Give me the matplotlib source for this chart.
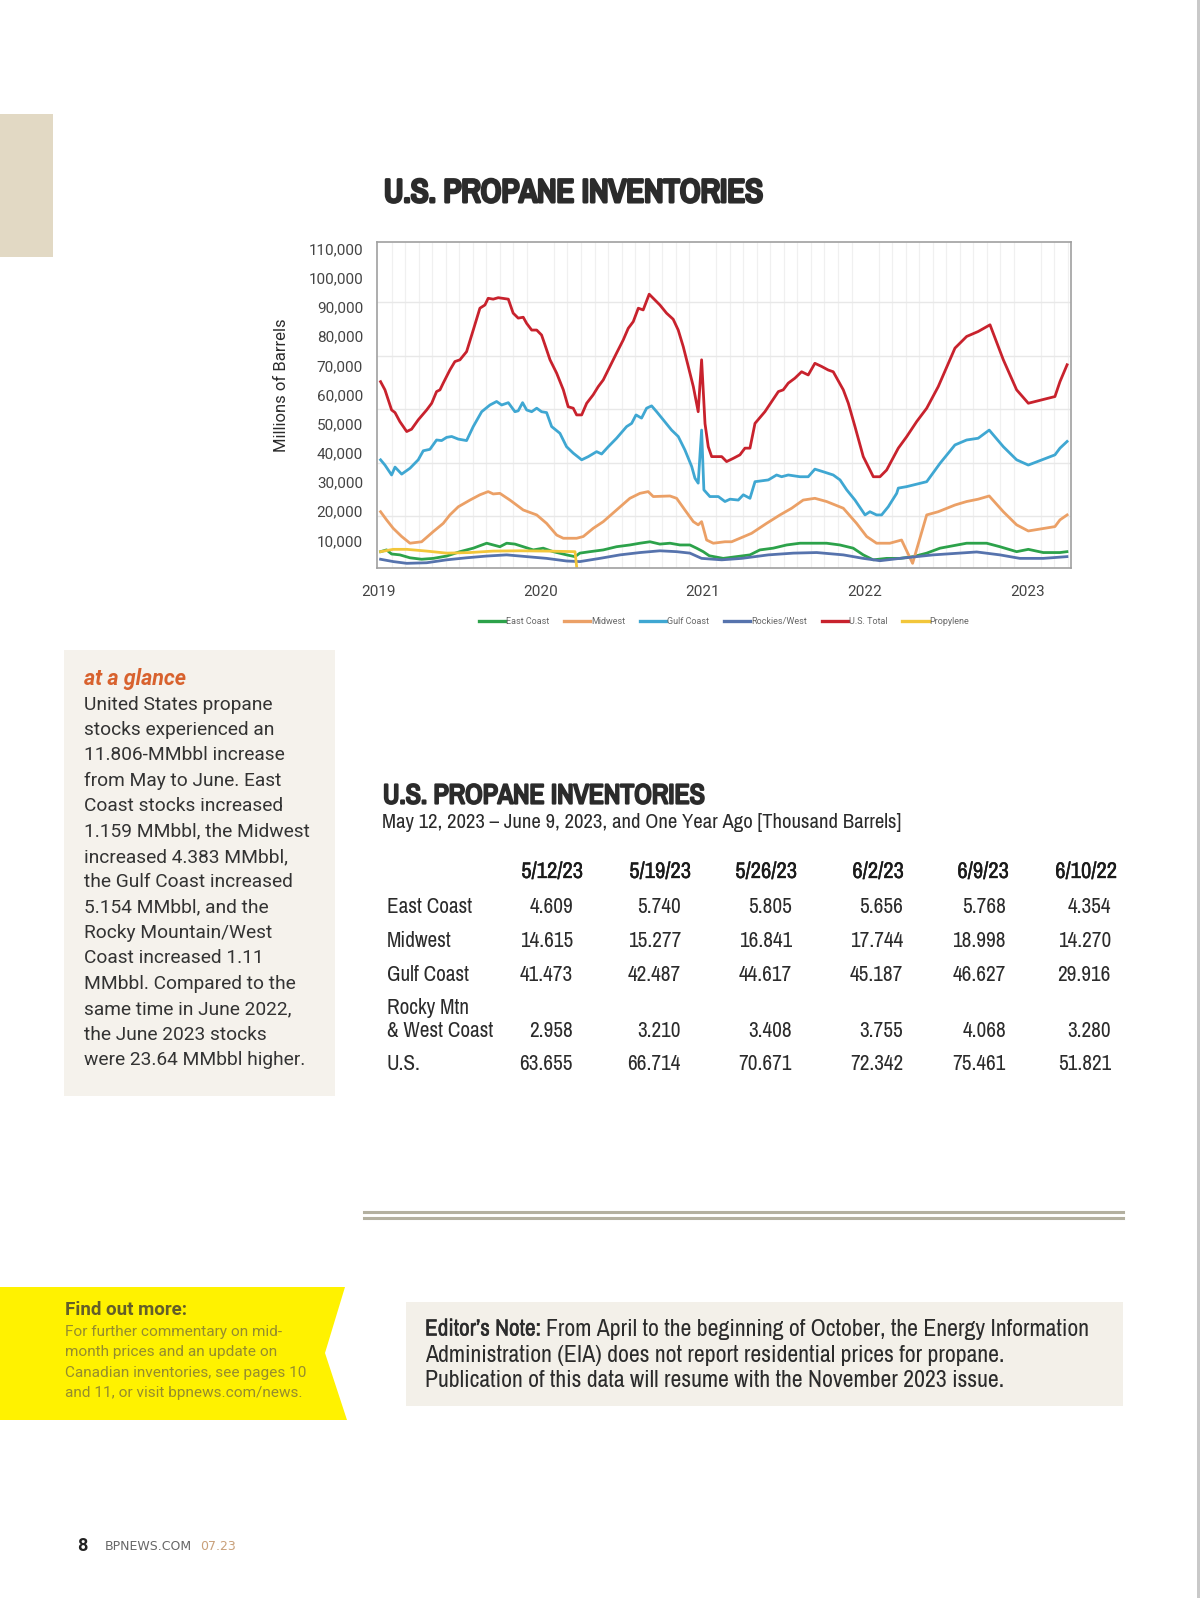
import numpy as np
import matplotlib
matplotlib.use('Agg')
import matplotlib.pyplot as plt
import matplotlib.patheffects as pe
from matplotlib import font_manager as fm
from matplotlib.patches import Rectangle, Polygon
from matplotlib.lines import Line2D
from matplotlib.ticker import FixedLocator, MultipleLocator

W, H = 1200, 1598

# ---- chart data, thousand barrels ----
east_t = [2019.015, 2019.052, 2019.083, 2019.134, 2019.196, 2019.268, 2019.340, 2019.422, 2019.504,
          2019.586, 2019.669, 2019.709, 2019.750, 2019.792, 2019.843, 2019.894, 2019.956,
          2020.017, 2020.079, 2020.161, 2020.213, 2020.243, 2020.305, 2020.387, 2020.469, 2020.551,
          2020.613, 2020.675, 2020.736, 2020.798, 2020.860, 2020.921, 2020.962,
          2021.003, 2021.040, 2021.126, 2021.209, 2021.291, 2021.352, 2021.434, 2021.517, 2021.599,
          2021.681, 2021.763, 2021.845, 2021.927, 2021.989,
          2022.050, 2022.133, 2022.215, 2022.297, 2022.380, 2022.462, 2022.626, 2022.749, 2022.831,
          2022.934, 2023.006, 2023.098, 2023.201, 2023.244]
east_v = [6100, 6700, 5300, 5000, 4000, 3500, 3800, 4600, 6100, 7300, 9000, 8400, 7800, 9000, 8700, 7800, 6700,
          7300, 6100, 5000, 4400, 5600, 6100, 6700, 7800, 8400, 9000, 9500, 8700, 9000, 8400, 8400, 7300,
          6100, 4700, 3800, 4400, 5000, 6700, 7300, 8400, 9000, 9000, 9000, 8400, 7300, 5000,
          3300, 3800, 3800, 4400, 5600, 7300, 9000, 9000, 7800, 6100, 6900, 5800, 5800, 6100]

mid_t = [2019.015, 2019.052, 2019.093, 2019.145, 2019.196, 2019.268, 2019.340, 2019.401, 2019.442, 2019.494,
         2019.566, 2019.627, 2019.678, 2019.709, 2019.750, 2019.812, 2019.894, 2019.977,
         2020.038, 2020.100, 2020.141, 2020.223, 2020.264, 2020.325, 2020.387, 2020.469, 2020.551, 2020.613,
         2020.664, 2020.695, 2020.798, 2020.839, 2020.890, 2020.942, 2020.972, 2020.993,
         2021.024, 2021.065, 2021.137, 2021.178, 2021.229, 2021.301, 2021.393, 2021.476, 2021.548, 2021.619,
         2021.691, 2021.763, 2021.866, 2021.948,
         2022.010, 2022.071, 2022.153, 2022.225, 2022.293, 2022.380, 2022.451, 2022.554, 2022.626, 2022.697,
         2022.765, 2022.852, 2022.934, 2023.006, 2023.170, 2023.201, 2023.245]
mid_v = [19800, 17000, 14100, 11300, 9000, 9500, 13000, 15800, 18700, 21500,
         23800, 25600, 26700, 25900, 26100, 23800, 20400, 18700,
         15800, 11800, 10700, 10700, 11300, 14100, 16400, 20400, 24400, 26100,
         26700, 25000, 25200, 24400, 20400, 16400, 15300, 16400,
         10100, 9000, 9500, 9500, 10700, 12400, 15800, 18700, 21000, 23800,
         24400, 23300, 21000, 15800,
         11300, 9000, 9000, 10100, 2100, 18700, 19800, 22100, 23300, 24100,
         25200, 19800, 15300, 13200, 14700, 17000, 18700]

gulf_t = [2019.015, 2019.042, 2019.083, 2019.104, 2019.145, 2019.196, 2019.247, 2019.278, 2019.319, 2019.360,
          2019.391, 2019.422, 2019.453, 2019.494, 2019.545, 2019.586, 2019.638, 2019.689, 2019.730, 2019.761,
          2019.802, 2019.843, 2019.863, 2019.890, 2019.915, 2019.946, 2019.977,
          2020.007, 2020.038, 2020.069, 2020.120, 2020.161, 2020.202, 2020.254, 2020.295, 2020.346, 2020.377,
          2020.418, 2020.469, 2020.531, 2020.562, 2020.589, 2020.623, 2020.654, 2020.685, 2020.716, 2020.757,
          2020.808, 2020.849, 2020.890, 2020.932, 2020.952, 2020.972, 2020.993,
          2021.007, 2021.044, 2021.096, 2021.137, 2021.168, 2021.219, 2021.250, 2021.291, 2021.322, 2021.404,
          2021.455, 2021.486, 2021.527, 2021.599, 2021.650, 2021.691, 2021.743, 2021.804, 2021.846, 2021.887,
          2021.938,
          2022.000, 2022.030, 2022.071, 2022.102, 2022.143, 2022.195, 2022.205, 2022.256, 2022.380, 2022.462,
          2022.554, 2022.626, 2022.697, 2022.765, 2022.852, 2022.934,
          2023.006, 2023.170, 2023.201, 2023.245]
gulf_v = [37600, 35800, 32400, 35100, 32700, 34700, 37600, 40700, 41200, 44400,
          44200, 45300, 45600, 44700, 44200, 49000, 54100, 56400, 57600, 56400,
          57200, 54100, 54400, 57200, 54700, 54100, 55300,
          54100, 53800, 49000, 46700, 42100, 39900, 37600, 38700, 40400, 39600,
          42100, 45000, 49000, 50100, 53000, 51900, 55300, 56100, 54100, 51300,
          47800, 45600, 41000, 35300, 31300, 29600, 47800,
          27300, 25000, 25000, 23300, 24100, 23800, 25600, 24400, 30100, 30700,
          32400, 31800, 32400, 31800, 31800, 34400, 33500, 32400, 30700, 27300,
          23800,
          18700, 19800, 18700, 18700, 21500, 26100, 27900, 28400, 30100, 36400,
          42700, 44400, 45000, 47800, 42100, 37600,
          35800, 39300, 41600, 43900]

rock_t = [2019.015, 2019.093, 2019.176, 2019.299, 2019.422, 2019.545, 2019.669, 2019.792, 2019.915,
          2020.038, 2020.161, 2020.243, 2020.366, 2020.490, 2020.613, 2020.736, 2020.839, 2020.921, 2020.993,
          2021.117, 2021.240, 2021.404, 2021.558, 2021.702, 2021.866, 2021.989,
          2022.092, 2022.215, 2022.420, 2022.688, 2022.831, 2022.954, 2023.098, 2023.244]
rock_v = [3500, 2700, 2100, 2300, 3300, 4000, 4600, 5000, 4400,
          3800, 2900, 2700, 3800, 5000, 5800, 6400, 6100, 5600, 3800,
          3300, 3800, 5000, 5600, 5800, 5000, 3800,
          3000, 3800, 5000, 6000, 5000, 3800, 3800, 4400]

us_t = [2019.015, 2019.042, 2019.083, 2019.104, 2019.134, 2019.176, 2019.206, 2019.247, 2019.299, 2019.330,
        2019.360, 2019.381, 2019.401, 2019.442, 2019.473, 2019.504, 2019.545, 2019.586, 2019.627, 2019.658,
        2019.678, 2019.709, 2019.740, 2019.802, 2019.832, 2019.863, 2019.894, 2019.915, 2019.946, 2019.977,
        2020.007, 2020.028, 2020.059, 2020.100, 2020.141, 2020.171, 2020.202, 2020.223, 2020.254, 2020.285,
        2020.325, 2020.356, 2020.387, 2020.428, 2020.469, 2020.510, 2020.541, 2020.572, 2020.603, 2020.633,
        2020.670, 2020.695, 2020.736, 2020.777, 2020.818, 2020.849, 2020.880, 2020.911, 2020.942, 2020.972,
        2020.993, 2021.014, 2021.034, 2021.055, 2021.117, 2021.147, 2021.188, 2021.229, 2021.260, 2021.291,
        2021.322, 2021.383, 2021.425, 2021.466, 2021.496, 2021.527, 2021.568, 2021.609, 2021.650, 2021.691,
        2021.733, 2021.773, 2021.804, 2021.866, 2021.897, 2021.938, 2021.989, 2022.051, 2022.092, 2022.133,
        2022.205, 2022.256, 2022.318, 2022.380, 2022.451, 2022.554, 2022.626, 2022.697, 2022.770, 2022.852,
        2022.934, 2023.006, 2023.170, 2023.201, 2023.245]
us_v = [64400, 61600, 54700, 53800, 50700, 47300, 48100, 51300, 54700, 57000,
        61000, 61600, 63900, 68400, 71300, 71900, 74700, 82100, 89600, 90700,
        93000, 92700, 93200, 92700, 87900, 86200, 86500, 84400, 82100, 82100,
        80400, 77000, 71900, 67300, 61600, 55800, 55300, 53000, 53000, 57000,
        59900, 62700, 65000, 69600, 74200, 78700, 82700, 85000, 89600, 89000,
        94400, 93000, 90700, 87900, 85800, 82100, 76400, 69600, 62700, 54100,
        71900, 50000, 42100, 38700, 38700, 37000, 38100, 39300, 41600, 41600,
        50100, 54100, 57600, 61000, 61600, 63900, 65600, 67800, 66700, 70700,
        69600, 68400, 67800, 61600, 57000, 49000, 38700, 31800, 31800, 34100,
        41600, 45500, 50700, 55300, 62700, 75900, 79900, 81600, 83900, 71900,
        61600, 57000, 59300, 64400, 70200]

prop_t = [2019.015, 2019.093, 2019.176, 2019.299, 2019.422, 2019.566, 2019.709, 2019.874,
          2020.038, 2020.213, 2020.223]
prop_v = [6100, 6900, 6900, 6300, 5600, 5800, 6300, 6400, 6300, 6100, 1000]

year_ticks = [2019, 2020, 2021, 2022, 2023]
y_ticks = [10000, 20000, 30000, 40000, 50000, 60000, 70000, 80000, 90000, 100000, 110000]

# ---- table data ----
table_cols = ['5/12/23', '5/19/23', '5/26/23', '6/2/23', '6/9/23', '6/10/22']
table_rows = ['East Coast', 'Midwest', 'Gulf Coast', 'Rocky Mtn\n& West Coast', 'U.S.']
table_vals = [['4.609', '5.740', '5.805', '5.656', '5.768', '4.354'],
              ['14.615', '15.277', '16.841', '17.744', '18.998', '14.270'],
              ['41.473', '42.487', '44.617', '45.187', '46.627', '29.916'],
              ['2.958', '3.210', '3.408', '3.755', '4.068', '3.280'],
              ['63.655', '66.714', '70.671', '72.342', '75.461', '51.821']]

glance_lines = ['United States propane', 'stocks experienced an', '11.806-MMbbl increase',
                'from May to June. East', 'Coast stocks increased', '1.159 MMbbl, the Midwest',
                'increased 4.383 MMbbl,', 'the Gulf Coast increased', '5.154 MMbbl, and the',
                'Rocky Mountain/West', 'Coast increased 1.11', 'MMbbl. Compared to the',
                'same time in June 2022,', 'the June 2023 stocks', 'were 23.64 MMbbl higher.']
more_lines = ['For further commentary on mid-', 'month prices and an update on',
              'Canadian inventories, see pages 10', 'and 11, or visit bpnews.com/news.']
note_lines = ['From April to the beginning of October, the Energy Information',
              'Administration (EIA) does not report residential prices for propane.',
              'Publication of this data will resume with the November 2023 issue.']


# ---- fonts: look for an installed condensed face, with a bold cut if there is one ----
def wnum(w):
    if isinstance(w, str):
        return fm.weight_dict.get(w, 400)
    return int(w)


fams = {}
for f in fm.fontManager.ttflist:
    fams.setdefault(f.name, set()).add(wnum(f.weight))
narrow_names = sorted([n for n in fams if 'Condensed' in n or 'Narrow' in n], key=len)
plain = [n for n in narrow_names if 'Bold' not in n and 'Black' not in n and 'Light' not in n
         and 'Thin' not in n]
NARROW = (plain or narrow_names or ['Roboto'])[0]
bold_named = [n for n in narrow_names if 'Bold' in n or 'Black' in n]
if NARROW in fams and max(fams[NARROW]) >= 600:
    NARROW_B, FAUX = NARROW, False
elif bold_named:
    NARROW_B, FAUX = bold_named[0], False
else:
    NARROW_B, FAUX = NARROW, True
BODY = ['Roboto', 'DejaVu Sans']


def fx(x):
    return x / W


def fy(y):
    return 1 - y / H


fig = plt.figure(figsize=(W / 100, H / 100), dpi=100)
fig.patch.set_facecolor('white')
renderer = fig.canvas.get_renderer()
ink = '#2b2b2b'


def put(x, y, s, **kw):
    kw.setdefault('va', 'center')
    kw.setdefault('color', ink)
    return fig.text(fx(x), fy(y), s, **kw)


def heavy(stroke, color=ink):
    # bold condensed text; thickened with a stroke when no bold cut is installed
    kw = dict(family=[NARROW_B, 'DejaVu Sans'], weight='bold')
    if FAUX:
        kw['path_effects'] = [pe.withStroke(linewidth=stroke, foreground=color)]
    return kw


def fit(txt, width):
    # scale a text so that its drawn width matches the printed one
    bb = txt.get_window_extent(renderer=renderer)
    txt.set_fontsize(txt.get_fontsize() * width / bb.width)
    return txt


def size_for(s, width, **kw):
    probe = put(0, 0, s, fontsize=20, **kw)
    bb = probe.get_window_extent(renderer=renderer)
    probe.remove()
    return 20 * width / bb.width


def box(x0, y0, x1, y1, color):
    fig.add_artist(Rectangle((fx(x0), fy(y1)), fx(x1) - fx(x0), fy(y0) - fy(y1),
                             transform=fig.transFigure, facecolor=color, edgecolor='none', zorder=0))


nar = dict(family=[NARROW, 'DejaVu Sans'])

# page furniture
box(0, 114, 53, 257, '#e2d9c4')
box(1197, 0, 1200, H, '#c9c9c9')
box(64, 650, 335, 1096, '#f5f2ec')
box(406, 1302, 1123, 1406, '#f3f0e9')
fig.add_artist(Polygon([(fx(0), fy(1287)), (fx(345), fy(1287)), (fx(325), fy(1353)),
                        (fx(347), fy(1420)), (fx(0), fy(1420))], closed=True,
                       transform=fig.transFigure, facecolor='#fff200', edgecolor='none', zorder=0))
for yy in (1212, 1218):
    fig.add_artist(Line2D([fx(364), fx(1123)], [fy(yy), fy(yy)], transform=fig.transFigure,
                          color='#b3b0a0', lw=2.2))

# ---- chart ----
fit(put(384, 193, 'U.S. PROPANE INVENTORIES', fontsize=20, **heavy(2.2)), 380)

ax = fig.add_axes([fx(377), fy(568), (1071 - 377) / W, (568 - 242) / H])
series = [('East Coast', east_t, east_v, '#2ca24a'),
          ('Midwest', mid_t, mid_v, '#eba066'),
          ('Gulf Coast', gulf_t, gulf_v, '#3fa7d2'),
          ('Rockies/West', rock_t, rock_v, '#5673ad'),
          ('U.S. Total', us_t, us_v, '#c8222d'),
          ('Propylene', prop_t, prop_v, '#f2c63a')]
handles = []
for name, t, v, c in series:
    ax.plot(t, v, color=c, lw=2.0, solid_joinstyle='round', label=name)
    handles.append(Line2D([], [], color=c, lw=2.4))

ax.set_xlim(2018.993, 2023.269)
ax.set_ylim(500, 112300)
ax.set_xticks(year_ticks)
ax.set_xticklabels([str(y) for y in year_ticks])
ax.set_yticks(y_ticks)
ax.set_yticklabels(['{:,}'.format(v) for v in y_ticks])
ax.xaxis.set_minor_locator(MultipleLocator(1 / 12))
ax.yaxis.set_minor_locator(FixedLocator(np.arange(1, 7) * 110000 / 6))
ax.grid(which='minor', axis='x', color='#f0f0f0', lw=0.9)
ax.grid(which='minor', axis='y', color='#e8e8e8', lw=1.0)
ax.set_axisbelow(True)
ax.tick_params(which='both', length=0)
ax.tick_params(axis='y', pad=10, labelsize=11, labelcolor='#444')
ax.tick_params(axis='x', pad=12, labelsize=11, labelcolor='#444')
for lab in ax.get_xticklabels() + ax.get_yticklabels():
    lab.set_family(BODY)
for sp in ax.spines.values():
    sp.set_color('#a0a0a0')
    sp.set_linewidth(1.2)

put(281, 385, 'Millions of Barrels', rotation=90, ha='center', family=BODY, fontsize=12)

fig.legend(handles, [s[0] for s in series], loc='center', bbox_to_anchor=(fx(724), fy(622)),
           ncol=6, frameon=False, handlelength=2.9, handletextpad=0.1,
           columnspacing=1.65, labelcolor='#666', prop={'family': BODY, 'size': 6.5})

# ---- at a glance ----
put(84, 679, 'at a glance', family=BODY, weight='bold', style='italic', fontsize=15.5, color='#d8622e')
for i, line in enumerate(glance_lines):
    put(84, 704.5 + i * 25.4, line, family=BODY, fontsize=13.8, color='#333333')

# ---- table ----
fit(put(383, 796, 'U.S. PROPANE INVENTORIES', fontsize=18, **heavy(1.6)), 322)
fit(put(382, 822, 'May 12, 2023 \u2013 June 9, 2023, and One Year Ago [Thousand Barrels]',
        fontsize=12, **nar), 518)
col_center = [552, 660, 766, 878, 983, 1086]
col_right = [573, 681, 792, 903, 1006, 1111]
row_y = [907, 941, 975, 1031, 1064]
head_size = size_for('5/12/23', 62, **nar)
cell_size = size_for('14.615', 53, **nar)
for c, name in enumerate(table_cols):
    put(col_center[c], 872, name, ha='center', fontsize=head_size, color='#1a1a1a',
        path_effects=[pe.withStroke(linewidth=0.25, foreground='#1a1a1a')], **nar)
for r, name in enumerate(table_rows):
    parts = name.split('\n')
    for k, p in enumerate(parts):
        put(387, row_y[r] - (len(parts) - 1 - k) * 23, p, fontsize=cell_size, **nar)
    for c, val in enumerate(table_vals[r]):
        put(col_right[c], row_y[r], val, ha='right', fontsize=cell_size, **nar)

# ---- find out more ----
put(65, 1310, 'Find out more:', family=BODY, weight='bold', fontsize=13.5, color='#635e29')
for i, line in enumerate(more_lines):
    put(65, 1332 + i * 20.4, line, family=BODY, fontsize=11.1, color='#958c2e')

# ---- editor's note ----
note_size = size_for(note_lines[1], 579, **nar)
lead = put(425, 1329, 'Editor\u2019s Note:', fontsize=note_size, **heavy(0.35))
fit(lead, 116)
bb = lead.get_window_extent(renderer=renderer)
put(bb.x1 + 5, 1329, note_lines[0], fontsize=note_size, **nar)
for i, line in enumerate(note_lines[1:]):
    put(425, 1355 + i * 25.5, line, fontsize=note_size, **nar)

# ---- footer ----
put(77, 1546, '8', family=BODY, weight='bold', fontsize=13, color='#222')
foot = put(105, 1547, 'BPNEWS.COM', family=['DejaVu Sans'], fontsize=9, color='#666')
bb = foot.get_window_extent(renderer=renderer)
put(bb.x1 + 8, 1547, '07.23', family=['DejaVu Sans'], fontsize=9, color='#c9a07a')

fig.savefig('out.png', dpi=100)
